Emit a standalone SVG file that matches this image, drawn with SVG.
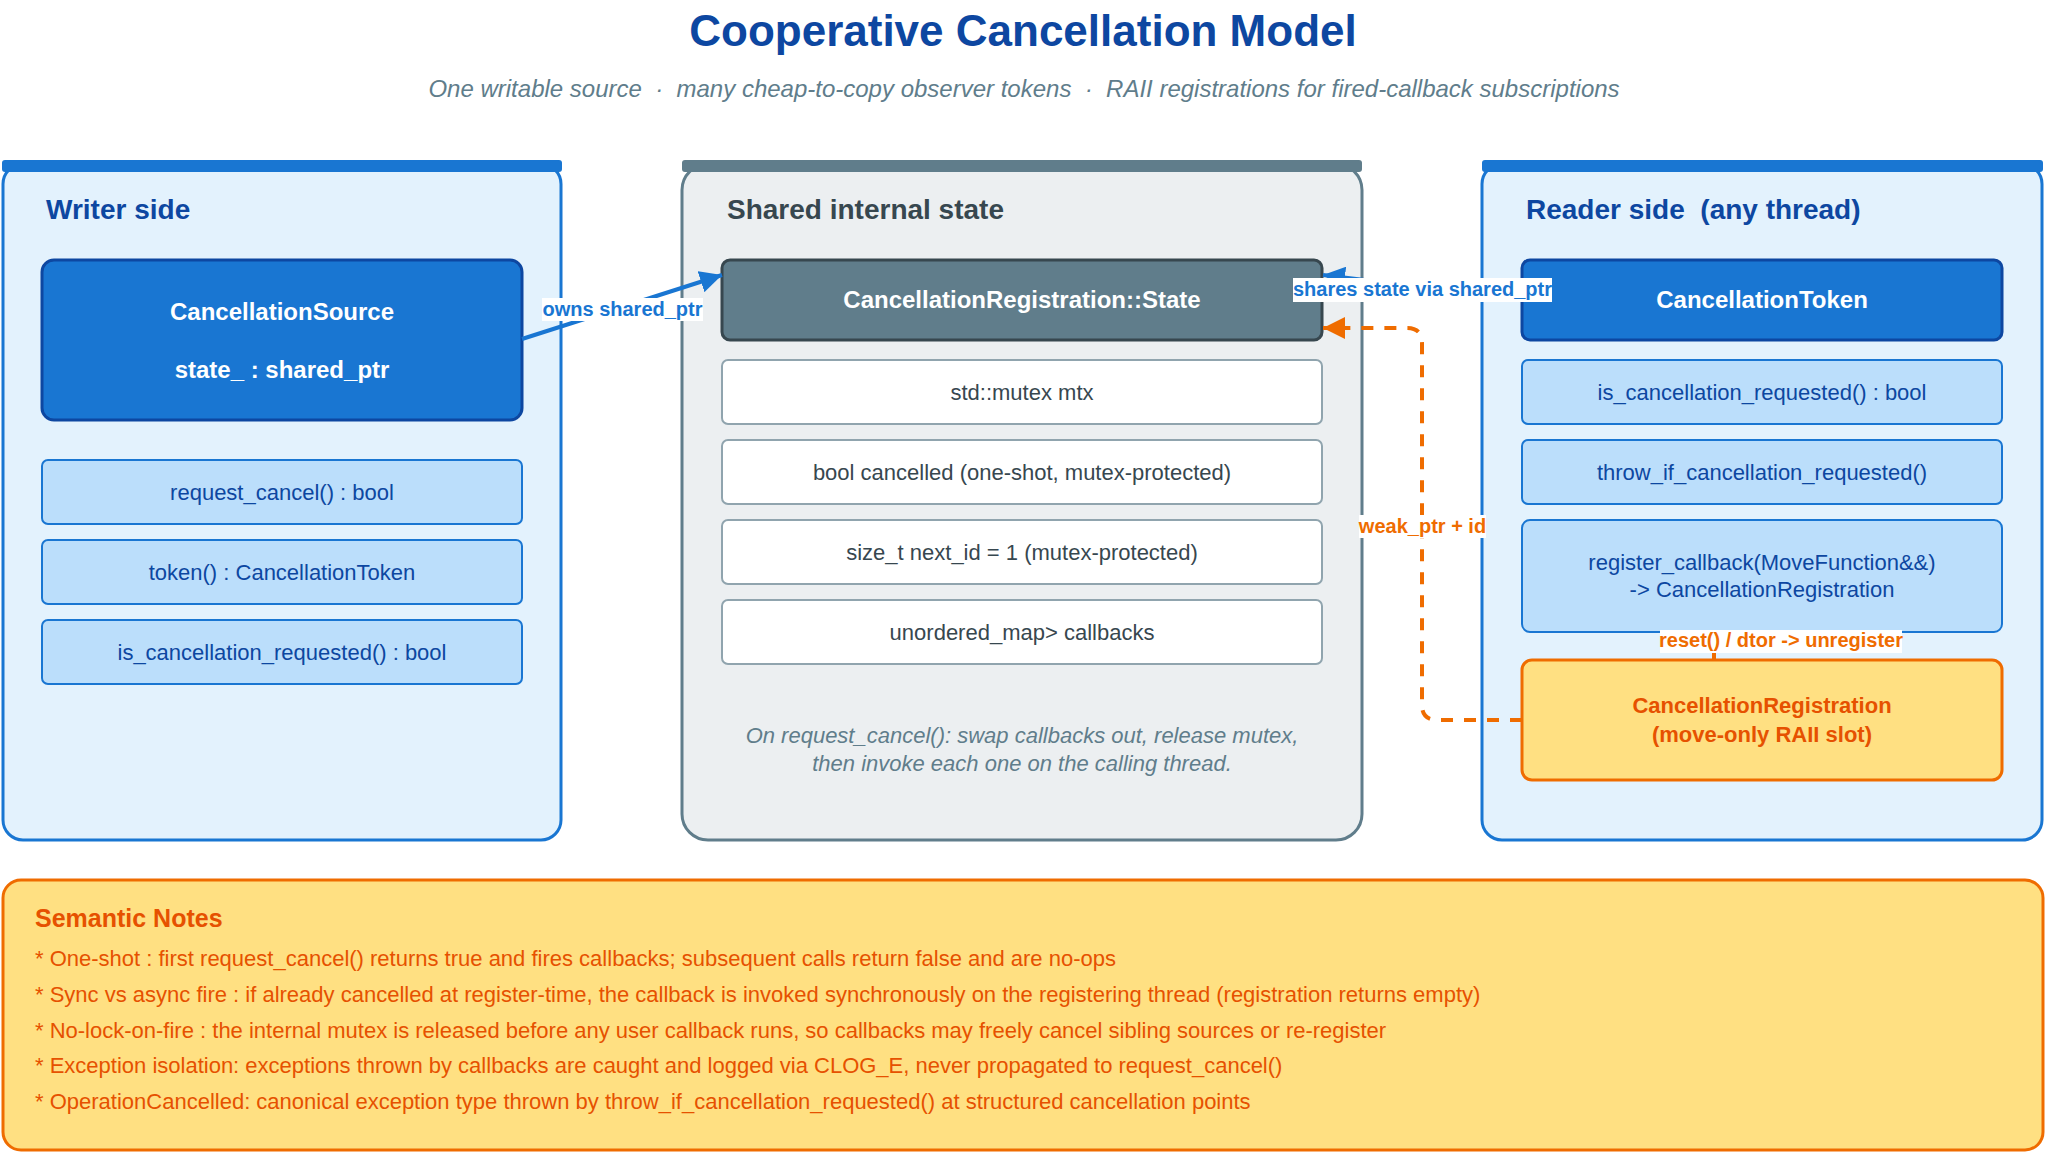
<svg xmlns="http://www.w3.org/2000/svg" width="2046" height="1154" viewBox="0 0 2046 1154">
<style>
text{font-family:"Liberation Sans",Arial,Helvetica,sans-serif}
.title{font-size:44px;font-weight:bold;fill:#0D47A1}
.sub{font-size:22px;font-style:italic;fill:#607D8B}
.ptitle{font-size:28px;font-weight:bold}
.pblue{fill:#E3F2FD;stroke:#1976D2;stroke-width:3}
.pgray{fill:#ECEFF1;stroke:#607D8B;stroke-width:3}
.main{fill:#1976D2;stroke:#0D47A1;stroke-width:3}
.maint{font-size:24px;font-weight:bold;fill:#fff}
.meth{fill:#BBDEFB;stroke:#1976D2;stroke-width:2}
.metht{font-size:22px;fill:#0D47A1}
.field{fill:#fff;stroke:#90A4AE;stroke-width:2}
.fieldt{font-size:22px;fill:#37474F}
.reg{fill:#FFE082;stroke:#EF6C00;stroke-width:3}
.regt{font-size:22px;font-weight:bold;fill:#E65100}
.lbl{font-size:20px;font-weight:bold}
.lblbg{fill:#fff}
.note{font-size:22px;fill:#E65100}
</style>
<defs>
<marker id="ab" markerUnits="userSpaceOnUse" markerWidth="22" markerHeight="22" refX="22" refY="11" orient="auto"><path d="M0,0 L22,11 L0,22 Z" fill="#1976D2"/></marker>
<marker id="ao" markerUnits="userSpaceOnUse" markerWidth="22" markerHeight="22" refX="22" refY="11" orient="auto"><path d="M0,0 L22,11 L0,22 Z" fill="#EF6C00"/></marker>
</defs>
<rect width="2046" height="1154" fill="#fff"/>
<text class="title" x="1023" y="46" text-anchor="middle">Cooperative Cancellation Model</text>
<text class="sub" x="1024" y="97" text-anchor="middle" font-size="24" style="font-size:24px" xml:space="preserve">One writable source  ·  many cheap-to-copy observer tokens  ·  RAII registrations for fired-callback subscriptions</text>

<g id="writer-panel">
<rect class="pblue" x="3" y="164" width="558" height="676" rx="20"/>
<rect x="2" y="160" width="560" height="12" rx="3" fill="#1976D2"/>
<text class="ptitle" x="46" y="219" fill="#0D47A1">Writer side</text>
</g>
<g id="cancellation-source">
<rect class="main" x="42" y="260" width="480" height="160" rx="12"/>
<text class="maint" x="282" y="320" text-anchor="middle">CancellationSource</text>
<text class="maint" x="282" y="378" text-anchor="middle">state_ : shared_ptr</text>
</g>
<g id="src-request-cancel"><rect class="meth" x="42" y="460" width="480" height="64" rx="6"/><text class="metht" x="282" y="500" text-anchor="middle">request_cancel() : bool</text></g>
<g id="src-token"><rect class="meth" x="42" y="540" width="480" height="64" rx="6"/><text class="metht" x="282" y="580" text-anchor="middle">token() : CancellationToken</text></g>
<g id="src-is-requested"><rect class="meth" x="42" y="620" width="480" height="64" rx="6"/><text class="metht" x="282" y="660" text-anchor="middle">is_cancellation_requested() : bool</text></g>

<g id="shared-panel">
<rect class="pgray" x="682" y="164" width="680" height="676" rx="26"/>
<rect x="682" y="160" width="680" height="12" rx="3" fill="#607D8B"/>
<text class="ptitle" x="727" y="219" fill="#37474F">Shared internal state</text>
<text class="sub" x="1022" y="743" text-anchor="middle">On request_cancel(): swap callbacks out, release mutex,</text>
<text class="sub" x="1022" y="771" text-anchor="middle">then invoke each one on the calling thread.</text>
</g>
<g id="state">
<rect x="722" y="260" width="600" height="80" rx="8" fill="#607D8B" stroke="#37474F" stroke-width="3"/>
<text class="maint" x="1022" y="308" text-anchor="middle">CancellationRegistration::State</text>
</g>
<g id="field-mutex"><rect class="field" x="722" y="360" width="600" height="64" rx="6"/><text class="fieldt" x="1022" y="400" text-anchor="middle">std::mutex mtx</text></g>
<g id="field-cancelled"><rect class="field" x="722" y="440" width="600" height="64" rx="6"/><text class="fieldt" x="1022" y="480" text-anchor="middle">bool cancelled (one-shot, mutex-protected)</text></g>
<g id="field-next-id"><rect class="field" x="722" y="520" width="600" height="64" rx="6"/><text class="fieldt" x="1022" y="560" text-anchor="middle">size_t next_id = 1 (mutex-protected)</text></g>
<g id="field-callbacks"><rect class="field" x="722" y="600" width="600" height="64" rx="6"/><text class="fieldt" x="1022" y="640" text-anchor="middle">unordered_map&gt; callbacks</text></g>

<g id="reader-panel">
<rect class="pblue" x="1482" y="164" width="560" height="676" rx="20"/>
<rect x="1482" y="160" width="561" height="12" rx="3" fill="#1976D2"/>
<text class="ptitle" x="1526" y="219" fill="#0D47A1" xml:space="preserve">Reader side  (any thread)</text>
</g>
<g id="cancellation-token">
<rect class="main" x="1522" y="260" width="480" height="80" rx="8"/>
<text class="maint" x="1762" y="308" text-anchor="middle">CancellationToken</text>
</g>
<g id="tok-is-requested"><rect class="meth" x="1522" y="360" width="480" height="64" rx="6"/><text class="metht" x="1762" y="400" text-anchor="middle">is_cancellation_requested() : bool</text></g>
<g id="tok-throw"><rect class="meth" x="1522" y="440" width="480" height="64" rx="6"/><text class="metht" x="1762" y="480" text-anchor="middle">throw_if_cancellation_requested()</text></g>
<g id="tok-register"><rect class="meth" x="1522" y="520" width="480" height="112" rx="8"/><text class="metht" x="1762" y="570" text-anchor="middle">register_callback(MoveFunction&amp;&amp;)</text><text class="metht" x="1762" y="597" text-anchor="middle">-&gt; CancellationRegistration</text></g>
<g id="cancellation-registration">
<rect class="reg" x="1522" y="660" width="480" height="120" rx="10"/>
<text class="regt" x="1762" y="713" text-anchor="middle">CancellationRegistration</text>
<text class="regt" x="1762" y="742" text-anchor="middle">(move-only RAII slot)</text>
</g>

<g id="connectors">
<line x1="522" y1="339" x2="722" y2="275" stroke="#1976D2" stroke-width="4" marker-end="url(#ab)"/>
<rect class="lblbg" x="542" y="298" width="161" height="23"/>
<text class="lbl" x="622.5" y="316" text-anchor="middle" fill="#1976D2">owns shared_ptr</text>
<line x1="1522" y1="299" x2="1323" y2="275" stroke="#1976D2" stroke-width="4" marker-end="url(#ab)"/>
<rect class="lblbg" x="1293" y="278" width="259" height="24"/>
<text class="lbl" x="1422.5" y="296" text-anchor="middle" fill="#1976D2">shares state via shared_ptr</text>
<path d="M1522,720 H1437 Q1422,720 1422,705 V343 Q1422,328 1407,328 H1323" fill="none" stroke="#EF6C00" stroke-width="4" stroke-dasharray="12 11" marker-end="url(#ao)"/>
<rect class="lblbg" x="1359" y="515" width="127" height="23"/>
<text class="lbl" x="1422.5" y="533" text-anchor="middle" fill="#EF6C00">weak_ptr + id</text>
<line x1="1714" y1="632" x2="1714" y2="660" stroke="#EF6C00" stroke-width="4"/>
<rect class="lblbg" x="1660" y="630" width="242" height="23"/>
<text class="lbl" x="1781" y="647" text-anchor="middle" fill="#EF6C00">reset() / dtor -&gt; unregister</text>
</g>

<g id="semantic-notes">
<rect class="reg" x="3" y="880" width="2040" height="270" rx="18"/>
<text x="35" y="927" font-size="25" font-weight="bold" fill="#E65100">Semantic Notes</text>
<text class="note" x="35" y="966">* One-shot : first request_cancel() returns true and fires callbacks; subsequent calls return false and are no-ops</text>
<text class="note" x="35" y="1002">* Sync vs async fire : if already cancelled at register-time, the callback is invoked synchronously on the registering thread (registration returns empty)</text>
<text class="note" x="35" y="1038">* No-lock-on-fire : the internal mutex is released before any user callback runs, so callbacks may freely cancel sibling sources or re-register</text>
<text class="note" x="35" y="1073">* Exception isolation: exceptions thrown by callbacks are caught and logged via CLOG_E, never propagated to request_cancel()</text>
<text class="note" x="35" y="1109">* OperationCancelled: canonical exception type thrown by throw_if_cancellation_requested() at structured cancellation points</text>
</g>
</svg>
